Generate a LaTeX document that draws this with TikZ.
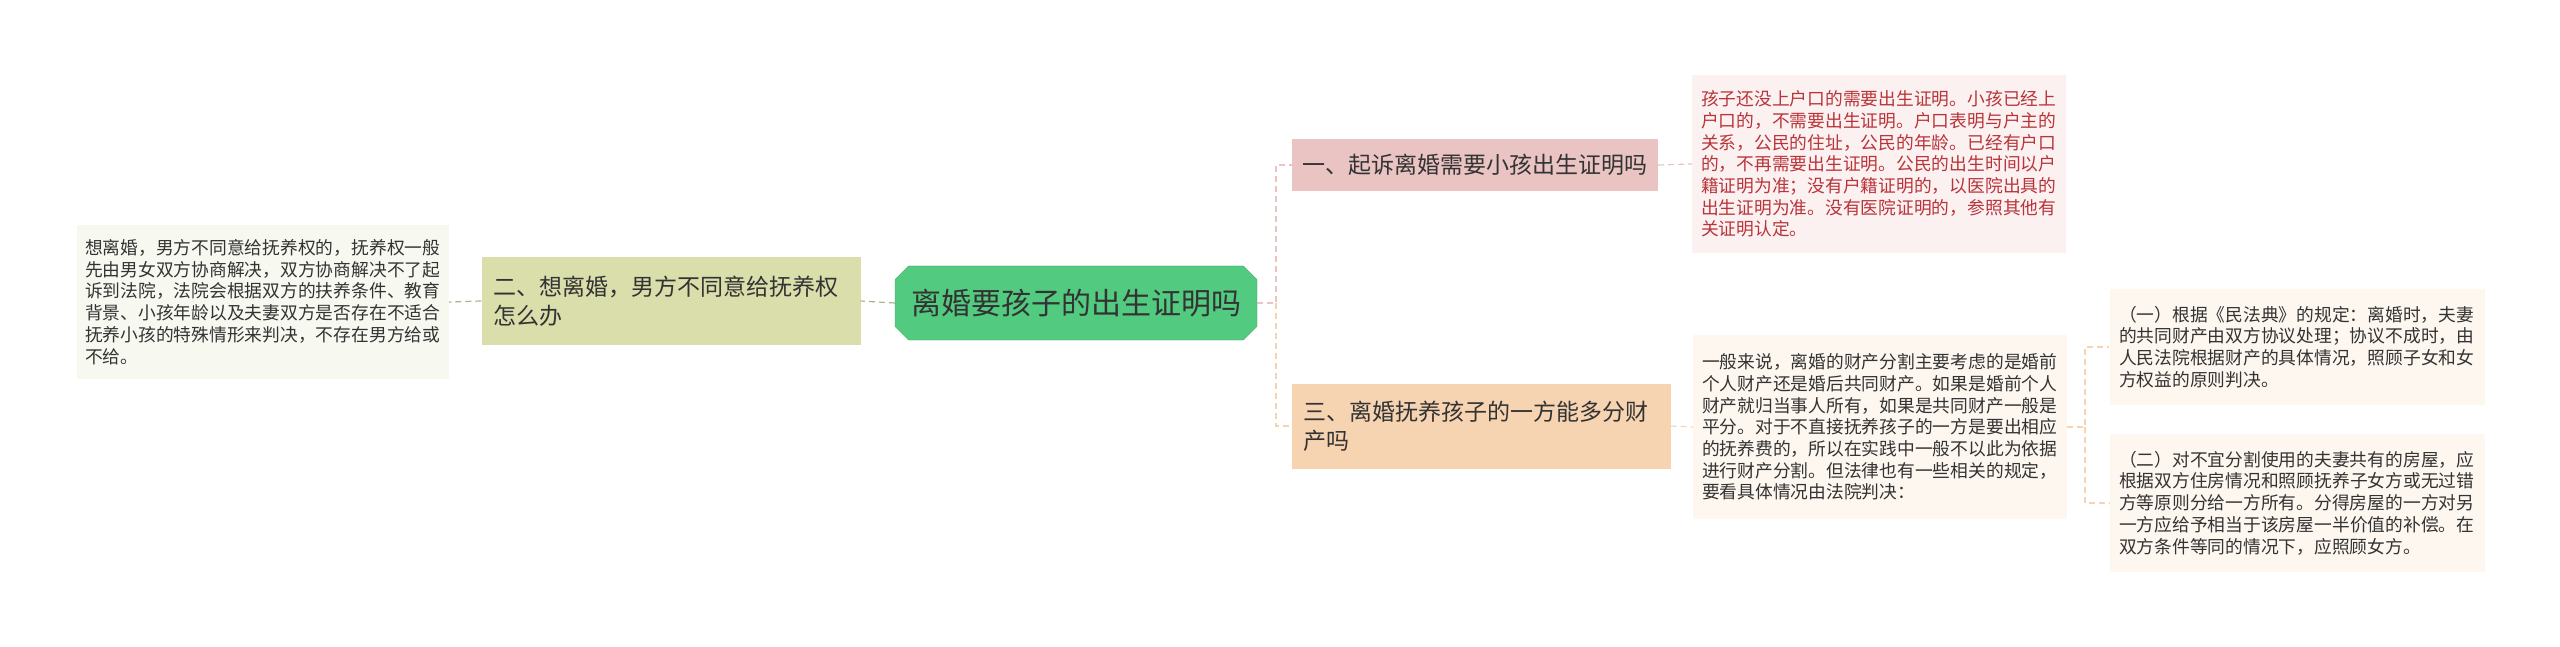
\documentclass[tikz,border=0pt]{standalone}
\usepackage{fontspec}
\setmainfont{Noto Sans CJK SC}
\XeTeXlinebreaklocale "zh"
\XeTeXlinebreakskip=0pt plus 1pt
\usetikzlibrary{shapes.misc}
\definecolor{rootgreen}{HTML}{52CB80}
\definecolor{olivefill}{HTML}{D9DEAB}
\definecolor{olivebg}{HTML}{F7F8F0}
\definecolor{pinkfill}{HTML}{EAC3C3}
\definecolor{pinkbg}{HTML}{FCF1F1}
\definecolor{peachfill}{HTML}{F6D4B2}
\definecolor{peachbg}{HTML}{FDF7F0}
\definecolor{redtext}{HTML}{B8343A}
\definecolor{greytext}{HTML}{333333}
\tikzset{
  x=1pt,y=-1pt,
  rootbox/.style={chamfered rectangle,chamfered rectangle xsep=10pt,fill=rootgreen,draw=rootgreen!80!black,
    font=\fontsize{30}{36}\selectfont,text=greytext,minimum width=362pt,minimum height=74pt,inner sep=0pt},
  branchbox/.style={fill=#1,draw=none,font=\fontsize{23}{29}\selectfont,text=greytext,
    align=left,inner sep=0pt,anchor=center},
  leafbox/.style={fill=#1,draw=none,font=\fontsize{17.75}{21.7}\selectfont,text=greytext,
    align=left,text width=356pt,inner sep=0pt,anchor=center},
  link/.style={dashed,line width=1.2pt,dash pattern=on 6pt off 4pt,draw=#1}
}
\begin{document}
\begin{tikzpicture}
\useasboundingbox[fill=white] (0,0) rectangle (2560,647);
% main topic
\node[rootbox] (root) at (1076,303) {离婚要孩子的出生证明吗};
% branches
\node[branchbox=olivefill,minimum width=379pt,minimum height=87pt,text width=355pt] (left) at (671,301) {二、想离婚，男方不同意给抚养权\\怎么办};
\node[branchbox=pinkfill,minimum width=366pt,minimum height=52pt,text width=345pt] (one) at (1475,165) {一、起诉离婚需要小孩出生证明吗};
\node[branchbox=peachfill,minimum width=379pt,minimum height=85pt,text width=355pt] (three) at (1481,426) {三、离婚抚养孩子的一方能多分财\\产吗};
% leaves
\node[leafbox=olivebg,minimum width=372pt,minimum height=154pt] (leftleaf) at (263,302) {想离婚，男方不同意给抚养权的，抚养权一般先由男女双方协商解决，双方协商解决不了起诉到法院，法院会根据双方的扶养条件、教育背景、小孩年龄以及夫妻双方是否存在不适合抚养小孩的特殊情形来判决，不存在男方给或不给。};
\node[leafbox=pinkbg,text=redtext,minimum width=374pt,minimum height=178pt] (oneleaf) at (1879,164) {孩子还没上户口的需要出生证明。小孩已经上户口的，不需要出生证明。户口表明与户主的关系，公民的住址，公民的年龄。已经有户口的，不再需要出生证明。公民的出生时间以户籍证明为准；没有户籍证明的，以医院出具的出生证明为准。没有医院证明的，参照其他有关证明认定。};
\node[leafbox=peachbg,minimum width=374pt,minimum height=184pt] (threeleaf) at (1880,427) {一般来说，离婚的财产分割主要考虑的是婚前个人财产还是婚后共同财产。如果是婚前个人财产就归当事人所有，如果是共同财产一般是平分。对于不直接抚养孩子的一方是要出相应的抚养费的，所以在实践中一般不以此为依据进行财产分割。但法律也有一些相关的规定，要看具体情况由法院判决：};
\node[leafbox=peachbg,minimum width=375pt,minimum height=116pt] (leafa) at (2297,347) {（一）根据《民法典》的规定：离婚时，夫妻的共同财产由双方协议处理；协议不成时，由人民法院根据财产的具体情况，照顾子女和女方权益的原则判决。};
\node[leafbox=peachbg,minimum width=375pt,minimum height=138pt] (leafb) at (2297,503) {（二）对不宜分割使用的夫妻共有的房屋，应根据双方住房情况和照顾抚养子女方或无过错方等原则分给一方所有。分得房屋的一方对另一方应给予相当于该房屋一半价值的补偿。在双方条件等同的情况下，应照顾女方。};
% connectors
\coordinate (rfork) at (1276,303);
\coordinate (tfork) at (2085,427);
\draw[link=olivefill!80!black] (root.west) -- (left.east);
\draw[link=olivefill!80!black] (left.west) -- (leftleaf.east);
\draw[link=pinkfill] (root.east) -- (rfork) |- (one.west);
\draw[link=peachfill] (rfork) |- (three.west);
\draw[link=pinkfill] (one.east) -- (oneleaf.west);
\draw[link=peachfill] (three.east) -- (threeleaf.west);
\draw[link=peachfill] (threeleaf.east) -- (tfork) |- (leafa.west);
\draw[link=peachfill] (tfork) |- (leafb.west);
\end{tikzpicture}
\end{document}
